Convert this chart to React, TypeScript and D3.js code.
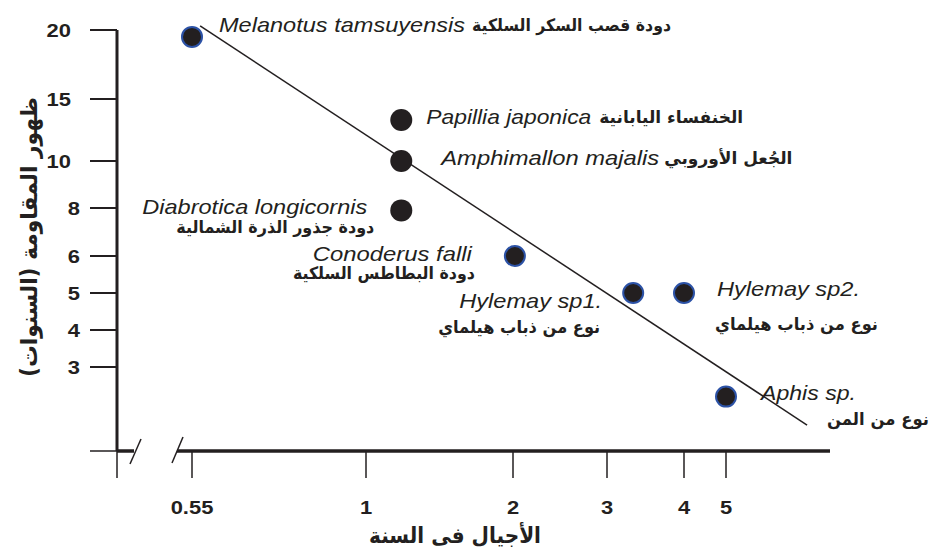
import React, { useEffect, useRef } from 'react';
import * as d3 from 'd3';

// species, ordered top-left to bottom-right
const latinNames = [
  'Melanotus tamsuyensis',
  'Papillia japonica',
  'Amphimallon majalis',
  'Diabrotica longicornis',
  'Conoderus falli',
  'Hylemay sp1.',
  'Hylemay sp2.',
  'Aphis sp.',
];
const arabicNames = [
  'دودة قصب السكر السلكية',
  'الخنفساء اليابانية',
  'الجُعل الأوروبي',
  'دودة جذور الذرة الشمالية',
  'دودة البطاطس السلكية',
  'نوع من ذباب هيلماي',
  'نوع من ذباب هيلماي',
  'نوع من المن',
];
const generations = [0.55, 1.24, 1.24, 1.24, 2.02, 3.34, 4, 5];
const resistanceYears = [19.5, 13.3, 10, 7.9, 6, 5, 5, 2.2];
const blueRimmed = [true, false, false, false, true, true, true, true];

const xTickValues = [0.55, 1, 2, 3, 4, 5];
const yTickValues = [20, 15, 10, 8, 6, 5, 4, 3];

const trendGenerations = [0.571, 6.93];
const trendYears = [20.3, 1.43];

const xTitle = 'الأجيال فى السنة';
const yTitle = 'ظهور المقاومة (السنوات)';

// label placement relative to each point (layout only)
const labelLayout = [
  { lx: 27, ly: -5, la: 'start', lw: 246, ax: 280, ay: -6, aa: 'start', aw: 199 },
  { lx: 25, ly: 4, la: 'start', lw: 165, ax: 198, ay: 3, aa: 'start', aw: 0 },
  { lx: 40, ly: 4, la: 'start', lw: 218, ax: 263, ay: 3, aa: 'start', aw: 0 },
  { lx: -34, ly: 4, la: 'end', lw: 225, ax: -27, ay: 23, aa: 'end', aw: 198 },
  { lx: -43, ly: 5, la: 'end', lw: 159, ax: -40, ay: 23, aa: 'end', aw: 182 },
  { lx: -31, ly: 15, la: 'end', lw: 143, ax: -33, ay: 40, aa: 'end', aw: 162 },
  { lx: 33, ly: 3, la: 'start', lw: 143, ax: 194, ay: 37, aa: 'end', aw: 163 },
  { lx: 35, ly: 3, la: 'start', lw: 95, ax: 203, ay: 28, aa: 'end', aw: 102 },
];

const INK = '#231f20';
const RIM = '#2c52a6';
const LATIN = '"Liberation Sans", Arial, sans-serif';
const ARABIC = '"DejaVu Sans", sans-serif';

const App: React.FC = () => {
  const svgRef = useRef<SVGSVGElement>(null);
  const width = 932;
  const height = 555;

  useEffect(() => {
    if (!svgRef.current) return;
    const svg = d3.select(svgRef.current);
    svg.selectAll('*').remove();

    // broken, non-uniform axes: piecewise scales through the tick positions
    const x = d3.scaleLinear().domain(xTickValues).range([192, 366, 513, 607, 684, 726]);
    const y = d3.scaleLinear().domain(yTickValues).range([30, 99, 161, 208, 256, 293, 330, 367]);

    const axisY = 451;
    const originX = 117;

    // y axis
    svg.append('line')
      .attr('x1', originX).attr('x2', originX)
      .attr('y1', y(20)).attr('y2', axisY)
      .attr('stroke', INK).attr('stroke-width', 3);
    svg.append('line')
      .attr('x1', originX).attr('x2', originX)
      .attr('y1', axisY).attr('y2', 478)
      .attr('stroke', INK).attr('stroke-width', 1.5);

    svg.selectAll('.ytick')
      .data(yTickValues)
      .enter()
      .append('line')
      .attr('x1', 90).attr('x2', originX)
      .attr('y1', d => y(d)).attr('y2', d => y(d))
      .attr('stroke', INK).attr('stroke-width', 2);

    svg.selectAll('.ylabel')
      .data(yTickValues)
      .enter()
      .append('text')
      .attr('transform', d => `translate(${d >= 10 ? 71 : 80},${y(d) + 6.5}) scale(1.22,1)`)
      .attr('text-anchor', 'end')
      .style('font-family', LATIN)
      .style('font-weight', 'bold')
      .style('font-size', '18px')
      .style('fill', INK)
      .text(d => String(d));

    // x axis with break marks
    svg.append('line')
      .attr('x1', 90).attr('x2', originX)
      .attr('y1', axisY).attr('y2', axisY)
      .attr('stroke', INK).attr('stroke-width', 1.5);
    svg.append('line')
      .attr('x1', originX).attr('x2', 134)
      .attr('y1', axisY).attr('y2', axisY)
      .attr('stroke', INK).attr('stroke-width', 3.5);
    svg.append('line')
      .attr('x1', 177).attr('x2', 830)
      .attr('y1', axisY).attr('y2', axisY)
      .attr('stroke', INK).attr('stroke-width', 3.5);
    [[130, 464, 141, 439], [172, 463, 183, 437]].forEach(([a, b, c, e]) => {
      svg.append('line')
        .attr('x1', a).attr('y1', b).attr('x2', c).attr('y2', e)
        .attr('stroke', INK).attr('stroke-width', 1.5);
    });

    svg.selectAll('.xtick')
      .data(xTickValues)
      .enter()
      .append('line')
      .attr('x1', d => x(d)).attr('x2', d => x(d))
      .attr('y1', axisY).attr('y2', 478)
      .attr('stroke', INK).attr('stroke-width', 1.5);

    svg.selectAll('.xlabel')
      .data(xTickValues)
      .enter()
      .append('text')
      .attr('transform', d => `translate(${x(d)},514) scale(1.22,1)`)
      .attr('text-anchor', 'middle')
      .style('font-family', LATIN)
      .style('font-weight', 'bold')
      .style('font-size', '18px')
      .style('fill', INK)
      .text(d => String(d));

    // axis titles
    svg.append('text')
      .attr('x', 455).attr('y', 543)
      .attr('text-anchor', 'middle')
      .attr('textLength', 172)
      .attr('lengthAdjust', 'spacingAndGlyphs')
      .style('font-family', ARABIC)
      .style('font-weight', 'bold')
      .style('font-size', '22px')
      .style('fill', INK)
      .text(xTitle);

    svg.append('text')
      .attr('transform', 'translate(37,237) rotate(-90)')
      .attr('text-anchor', 'middle')
      .attr('direction', 'rtl')
      .attr('textLength', 280)
      .attr('lengthAdjust', 'spacingAndGlyphs')
      .style('font-family', ARABIC)
      .style('font-weight', 'bold')
      .style('font-size', '23px')
      .style('fill', INK)
      .text(yTitle);

    // regression line
    const trend = trendGenerations.map((g, i) => [x(g), y(trendYears[i])] as [number, number]);
    svg.append('path')
      .attr('d', d3.line()(trend))
      .attr('fill', 'none')
      .attr('stroke', INK)
      .attr('stroke-width', 1.5);

    // points
    const idx = d3.range(latinNames.length);
    svg.selectAll('.pt')
      .data(idx)
      .enter()
      .append('circle')
      .attr('cx', i => x(generations[i]))
      .attr('cy', i => y(resistanceYears[i]))
      .attr('r', i => (blueRimmed[i] ? 10 : 11))
      .attr('fill', INK)
      .attr('stroke', i => (blueRimmed[i] ? RIM : 'none'))
      .attr('stroke-width', 2);

    // labels
    idx.forEach(i => {
      const px = x(generations[i]);
      const py = y(resistanceYears[i]);
      const L = labelLayout[i];
      svg.append('text')
        .attr('x', px + L.lx).attr('y', py + L.ly)
        .attr('text-anchor', L.la)
        .attr('textLength', L.lw)
        .attr('lengthAdjust', 'spacingAndGlyphs')
        .style('font-family', LATIN)
        .style('font-style', 'italic')
        .style('font-size', '21px')
        .style('fill', INK)
        .text(latinNames[i]);

      const at = svg.append('text')
        .attr('x', px + L.ax).attr('y', py + L.ay)
        .attr('text-anchor', L.aa)
        .style('font-family', ARABIC)
        .style('font-weight', 'bold')
        .style('font-size', '17px')
        .style('fill', INK)
        .text(arabicNames[i]);
      if (L.aw) at.attr('textLength', L.aw).attr('lengthAdjust', 'spacingAndGlyphs');
    });
  }, []);

  return (
    <svg
      ref={svgRef}
      width={width}
      height={height}
      style={{ position: 'absolute', left: 0, top: 0, background: '#fff' }}
    />
  );
};

export default App;
